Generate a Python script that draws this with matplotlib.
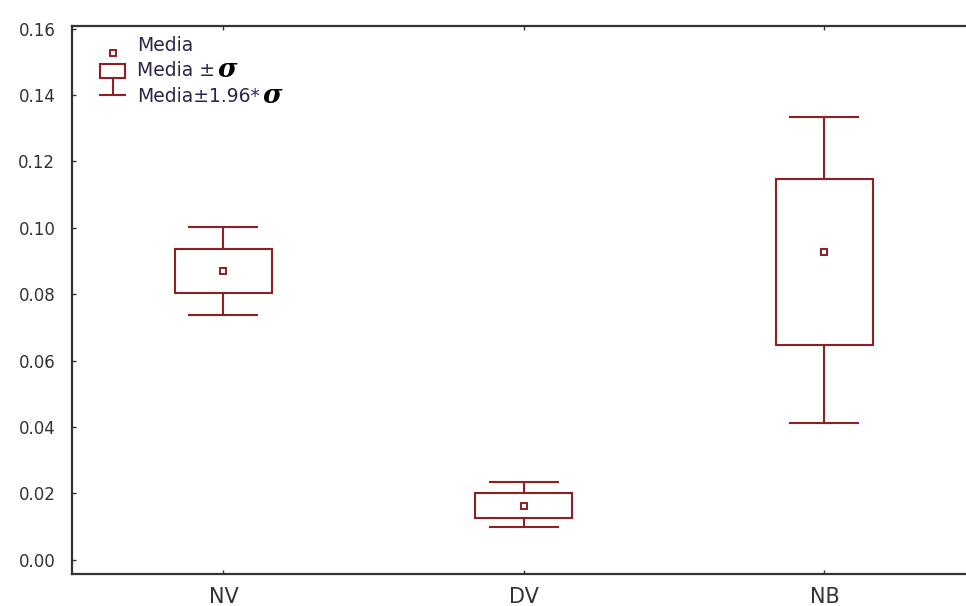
import matplotlib
matplotlib.use("Agg")
import matplotlib.pyplot as plt
from matplotlib.patches import Rectangle

# values
groups = ["NV", "DV", "NB"]
means = [0.0871, 0.0163, 0.0928]
box_low = [0.0804, 0.0125, 0.0647]
box_high = [0.0937, 0.0201, 0.1148]
whisk_low = [0.0738, 0.0098, 0.0412]
whisk_high = [0.1003, 0.0234, 0.1335]
yticks = [0.00, 0.02, 0.04, 0.06, 0.08, 0.10, 0.12, 0.14, 0.16]
legend_labels = ["Media", "Media \u00b1", "Media\u00b11.96*"]

col = "#8e1f22"
txt = "#2e2348"
axcol = "#333333"

fig = plt.figure(figsize=(9.66, 6.06), dpi=100)
ax = fig.add_axes([0.0745, 0.0528, 0.9255, 0.9043])

box_w = 0.323
cap_w = 0.226
for i, g in enumerate(groups):
    x = i + 1
    ax.add_patch(Rectangle((x - box_w / 2, box_low[i]), box_w,
                           box_high[i] - box_low[i], fill=False,
                           edgecolor=col, lw=1.5))
    ax.plot([x, x], [box_high[i], whisk_high[i]], color=col, lw=1.5)
    ax.plot([x, x], [whisk_low[i], box_low[i]], color=col, lw=1.5)
    ax.plot([x - cap_w / 2, x + cap_w / 2], [whisk_high[i]] * 2, color=col, lw=1.5)
    ax.plot([x - cap_w / 2, x + cap_w / 2], [whisk_low[i]] * 2, color=col, lw=1.5)
    ax.plot([x], [means[i]], marker="s", ms=5, mfc="white", mec=col, mew=1.4,
            ls="none")

ax.set_xlim(0.496, 3.471)
ax.set_ylim(-0.0043, 0.1608)
ax.set_xticks([1, 2, 3])
ax.set_xticklabels(groups, fontsize=15, color=axcol)
ax.set_yticks(yticks)
ax.set_yticklabels(["%.2f" % v for v in yticks], fontsize=12, color=axcol)
ax.tick_params(axis="x", direction="in", length=3, pad=9, top=True,
               width=1.0, color=axcol)
ax.tick_params(axis="y", direction="in", length=3, pad=12, width=1.0,
               color=axcol)
ax.spines["right"].set_visible(False)
for s in ("left", "top", "bottom"):
    ax.spines[s].set_linewidth(1.6)
    ax.spines[s].set_color(axcol)

# legend glyphs, drawn in axes fraction
tr = ax.transAxes
ax.plot([0.0459], [0.951], marker="s", ms=5, mfc="white", mec=col, mew=1.4,
        transform=tr, clip_on=False)
ax.add_patch(Rectangle((0.0315, 0.905), 0.028, 0.0255, fill=False,
                       edgecolor=col, lw=1.5, transform=tr))
ax.plot([0.0459, 0.0459], [0.905, 0.874], color=col, lw=1.5, transform=tr)
ax.plot([0.0315, 0.0595], [0.874, 0.874], color=col, lw=1.5, transform=tr)
for j, (lab, yy) in enumerate(zip(legend_labels, [0.9635, 0.918, 0.871])):
    t = ax.text(0.0727, yy, lab, transform=tr, fontsize=13.5, color=txt,
                va="center", ha="left")
    if j > 0:
        ax.annotate("\u03c3", xy=(1, 0.5), xycoords=t, xytext=(2, 1),
                    textcoords="offset points", fontsize=19, color="black",
                    style="italic", weight="bold", family="DejaVu Serif",
                    va="center", ha="left")

fig.savefig("out.png", dpi=100)
